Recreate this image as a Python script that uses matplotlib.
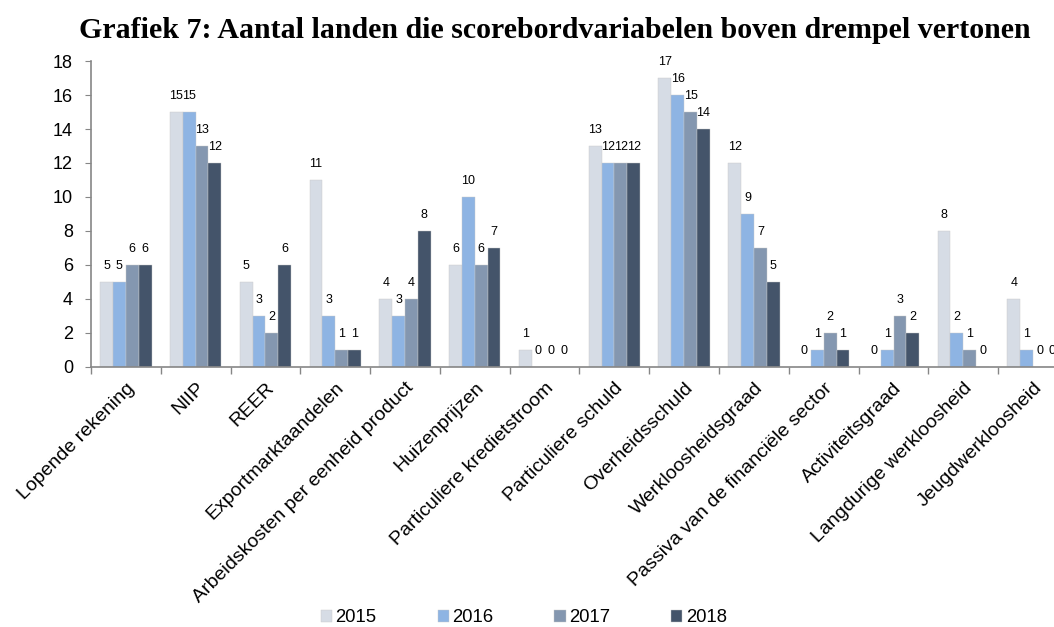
import numpy as np
import matplotlib.pyplot as plt
from matplotlib.ticker import FixedLocator

plt.rcParams['font.family'] = ['Liberation Sans', 'DejaVu Sans']

categories = ['Lopende rekening', 'NIIP', 'REER', 'Exportmarktaandelen',
              'Arbeidskosten per eenheid product', 'Huizenprijzen',
              'Particuliere kredietstroom', 'Particuliere schuld',
              'Overheidsschuld', 'Werkloosheidsgraad',
              'Passiva van de financiële sector', 'Activiteitsgraad',
              'Langdurige werkloosheid', 'Jeugdwerkloosheid']
years = ['2015', '2016', '2017', '2018']
v2015 = [5, 15, 5, 11, 4, 6, 1, 13, 17, 12, 0, 0, 8, 4]
v2016 = [5, 15, 3, 3, 3, 10, 0, 12, 16, 9, 1, 1, 2, 1]
v2017 = [6, 13, 2, 1, 4, 6, 0, 12, 15, 7, 2, 3, 1, 0]
v2018 = [6, 12, 6, 1, 8, 7, 0, 12, 14, 5, 1, 2, 0, 0]
colors = ['#D6DCE5', '#8EB4E3', '#8497B0', '#44546A']

fig = plt.figure(figsize=(10.54, 6.27), dpi=100)
ax = fig.add_axes([0.0863, 0.4147, 0.927, 0.488])

x = np.arange(len(categories))
w = 0.184
series = [v2015, v2016, v2017, v2018]
for i, (vals, c, yr) in enumerate(zip(series, colors, years)):
    pos = x + (i - 1.5) * w
    ax.bar(pos, vals, w, color=c, label=yr, edgecolor='#c8c8c8', linewidth=0.3)
    for p, v in zip(pos, vals):
        ax.text(p, v + 0.75, str(v), ha='center', va='baseline', fontsize=9)

ax.set_xlim(-0.5, len(categories) - 0.5)
ax.set_ylim(0, 18)
ax.set_yticks(range(0, 19, 2))
ax.tick_params(axis='y', labelsize=13, length=4, color='#868686', pad=9)
ax.set_xticks(x)
ax.set_xticklabels(categories, rotation=45, ha='right', rotation_mode='anchor', fontsize=14)
ax.tick_params(axis='x', which='major', length=0, pad=9)
ax.xaxis.set_minor_locator(FixedLocator(np.arange(-0.5, len(categories), 1)))
ax.tick_params(axis='x', which='minor', length=5, color='#868686', width=1)
for s in ['top', 'right']:
    ax.spines[s].set_visible(False)
for s in ['left', 'bottom']:
    ax.spines[s].set_color('#868686')
    ax.spines[s].set_linewidth(1.2)

fig.text(0.526, 0.952, 'Grafiek 7: Aantal landen die scorebordvariabelen boven drempel vertonen',
         ha='center', va='center', fontsize=21.5, fontweight='bold', family='Liberation Serif')

fig.legend(loc='center', bbox_to_anchor=(0.497, 0.0144), ncol=4, frameon=False,
           fontsize=13.3, handlelength=0.6, handleheight=0.6, columnspacing=3.3, handletextpad=0.2)

plt.savefig('out.png', dpi=100)
